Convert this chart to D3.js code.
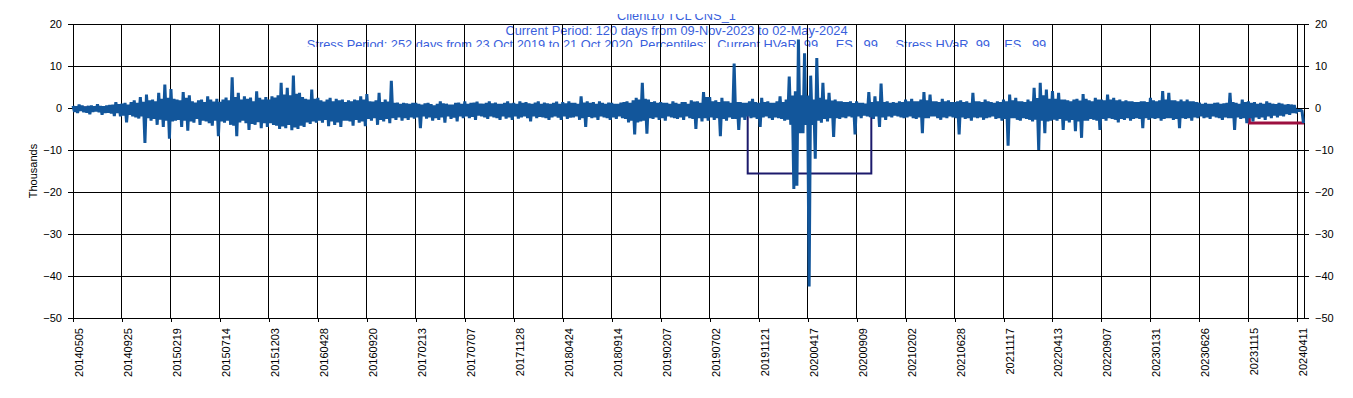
<!DOCTYPE html>
<html><head><meta charset="utf-8">
<script src="https://cdn.jsdelivr.net/npm/d3@7"></script>
<style>
body{margin:0;background:#fff}
svg{display:block}
text{font-family:"Liberation Sans",Arial,sans-serif}
</style>
</head><body>
<svg id="c" width="1353" height="398"></svg>
<script>
// ---------------- data ----------------
const titleLines = [
  "Client10 TCL CNS_1",
  "Current Period: 120 days from 09-Nov-2023 to 02-May-2024",
  "Stress Period: 252 days from 23 Oct 2019 to 21 Oct 2020, Percentiles:   Current HVaR  99     ES   99     Stress HVaR  99    ES   99"
];
const yAxisLabel = "Thousands";
const yTicks = [-50, -40, -30, -20, -10, 0, 10, 20];
const tickLabels = ["20140505","20140925","20150219","20150714","20151203","20160428","20160920",
  "20170213","20170707","20171128","20180424","20180914","20190207","20190702","20191121",
  "20200417","20200909","20210202","20210628","20211117","20220413","20220907","20230131",
  "20230626","20231115","20240411"];
const daysPerTick = 103;     // trading days between labelled dates
const lastDay = 2589;        // index of 02-May-2024
const samplesPerTick = 32;   // sampled P&L highs/lows per labelled interval
// daily P&L (thousands): alternating sampled highs and lows read from the chart
const pnl = [
  0.5,-0.9,0.4,-1.2,0.8,-0.7,0.6,-1.0,0.3,-1.1,0.5,-1.5,0.6,-0.9,0.4,-0.8,0.9,-1.0,0.5,-1.6,0.4,-1.2,0.6,-1.1,0.7,-1.3,0.8,-1.9,1.4,-1.2,0.9,-2.0,
  1.0,-1.8,1.2,-3.4,0.8,-1.6,1.4,-2.0,1.8,-2.2,1.2,-2.5,2.6,-2.0,1.5,-8.3,3.2,-2.4,1.8,-3.0,2.0,-2.6,1.6,-4.0,3.6,-2.8,2.2,-4.5,5.6,-3.0,2.4,-7.3,
  4.5,-3.2,2.2,-3.0,2.0,-2.8,1.8,-4.5,3.8,-3.0,2.4,-5.4,3.0,-3.2,1.6,-3.5,1.3,-2.6,1.8,-4.0,2.0,-3.0,1.4,-3.2,2.8,-3.6,2.0,-4.2,1.5,-3.0,2.2,-6.7,
  1.5,-3.2,2.0,-3.5,2.5,-3.0,1.8,-4.0,7.3,-4.2,2.6,-6.7,3.6,-3.4,2.0,-3.0,2.8,-3.6,2.2,-5.2,2.5,-3.8,1.6,-4.0,4.0,-3.4,2.4,-4.8,2.0,-3.6,2.6,-4.5,
  2.0,-3.6,2.8,-4.0,2.5,-4.2,3.0,-5.0,6.0,-4.4,3.2,-4.8,4.8,-4.0,3.0,-5.3,7.7,-4.6,3.4,-5.0,3.6,-4.2,2.6,-4.5,2.2,-3.4,2.0,-3.8,4.4,-3.2,2.2,-3.5,
  2.4,-3.0,1.8,-3.5,1.5,-2.8,2.0,-4.3,2.4,-3.2,1.6,-4.0,2.2,-3.4,1.8,-4.5,2.0,-3.0,1.4,-3.0,1.8,-3.2,1.6,-4.2,2.0,-2.8,1.8,-3.5,2.8,-3.2,2.0,-4.3,
  3.3,-2.6,1.6,-3.0,1.5,-2.4,1.8,-4.0,3.6,-2.8,1.4,-3.2,2.0,-2.6,1.5,-3.6,6.5,-2.4,1.2,-2.8,1.3,-2.2,1.0,-3.0,1.2,-2.4,1.1,-2.8,1.0,-2.2,1.2,-2.5,
  1.2,-2.2,1.0,-4.8,0.8,-2.0,1.1,-2.5,1.2,-2.2,0.9,-3.0,0.6,-2.4,1.0,-2.8,1.6,-2.2,1.1,-3.5,1.0,-2.0,0.8,-2.6,0.8,-2.3,1.2,-3.2,1.3,-2.0,1.0,-2.4,
  1.6,-2.0,1.0,-2.4,1.2,-2.1,1.3,-2.8,1.5,-1.8,1.0,-2.0,1.0,-2.2,1.2,-2.6,1.6,-2.0,1.1,-2.2,1.3,-2.4,1.0,-2.8,1.0,-2.0,1.2,-2.5,1.6,-2.2,1.1,-2.8,
  1.2,-2.0,1.0,-2.5,1.6,-2.2,1.2,-2.0,1.4,-2.4,1.1,-3.2,1.0,-2.0,1.3,-2.4,1.6,-2.1,1.0,-2.2,1.3,-2.4,1.1,-2.8,1.0,-2.2,1.2,-2.0,1.5,-2.3,1.0,-2.8,
  1.4,-2.0,1.1,-2.6,1.6,-2.3,1.2,-2.2,1.2,-2.0,1.0,-2.8,2.8,-2.4,1.3,-4.5,1.6,-2.1,1.2,-2.4,1.4,-2.2,1.0,-2.8,1.6,-2.0,1.2,-2.2,1.0,-2.4,1.3,-2.8,
  1.2,-2.2,1.0,-2.6,1.0,-2.0,1.3,-2.4,1.4,-2.6,1.6,-3.4,1.2,-3.0,1.8,-6.3,2.4,-3.4,2.0,-3.2,6.0,-3.0,2.2,-6.1,2.0,-2.4,1.4,-2.6,1.6,-2.2,1.2,-2.8,
  1.4,-2.4,1.2,-3.0,1.2,-2.0,1.0,-2.2,1.6,-2.4,1.2,-2.6,1.0,-2.2,1.4,-2.8,1.4,-2.0,1.0,-2.4,1.8,-2.6,1.5,-5.0,1.6,-2.4,1.2,-3.2,3.8,-2.4,2.6,-3.0,
  2.6,-2.2,1.6,-2.8,1.8,-2.4,1.4,-6.7,2.4,-2.6,1.6,-3.0,1.6,-2.2,1.2,-2.6,10.6,-2.6,1.4,-5.2,1.4,-2.2,1.2,-2.8,1.2,-2.0,1.6,-2.4,2.2,-2.2,1.4,-2.6,
  1.2,-4.5,2.4,-2.2,1.4,-2.0,1.6,-2.4,1.2,-2.8,1.2,-2.2,1.6,-2.4,2.8,-2.6,1.4,-3.0,2.0,-2.8,7.5,-4.0,3.0,-19.3,4.0,-18.5,16.3,-6.0,3.0,-6.0,13.0,-4.0,
  3.0,-42.5,7.7,-4.0,2.0,-12.1,11.9,-3.0,2.4,-3.5,6.0,-2.6,2.0,-3.2,3.6,-2.4,1.8,-6.9,2.0,-2.4,1.6,-2.6,1.6,-2.2,1.4,-2.4,1.4,-2.0,1.6,-2.2,1.2,-6.3,
  1.6,-2.0,1.2,-2.4,1.2,-1.8,1.0,-2.0,3.8,-2.2,1.4,-2.6,2.8,-2.0,1.6,-4.5,5.8,-2.2,1.4,-2.8,1.6,-2.0,1.2,-2.2,1.4,-1.8,1.2,-2.0,1.6,-2.2,1.4,-2.4,
  2.0,-2.2,1.6,-2.0,2.2,-2.4,1.6,-2.6,1.6,-2.2,2.0,-6.0,3.8,-2.4,1.8,-2.4,3.2,-2.0,1.6,-2.0,1.6,-2.4,1.4,-2.8,2.2,-2.2,1.6,-2.4,1.8,-2.0,1.4,-2.2,
  1.4,-2.4,1.6,-6.3,1.8,-2.2,1.4,-2.6,1.6,-2.4,1.2,-3.0,3.6,-2.2,1.6,-2.4,1.6,-2.2,1.4,-2.8,2.0,-2.4,1.6,-2.2,1.4,-2.0,1.2,-2.6,1.6,-2.4,1.4,-3.0,
  2.0,-2.6,1.6,-9.0,3.2,-2.4,1.8,-2.4,2.4,-2.8,1.6,-3.0,1.6,-2.4,1.4,-2.6,2.0,-2.8,1.6,-3.2,4.8,-2.8,2.4,-10.0,6.0,-3.0,3.0,-6.0,4.4,-3.2,2.2,-3.0,
  4.0,-2.8,2.2,-3.0,3.6,-2.6,2.0,-5.2,2.0,-3.0,1.8,-3.4,1.6,-2.8,2.0,-5.5,2.2,-3.2,1.8,-7.1,3.3,-3.0,2.2,-3.0,1.8,-2.6,1.6,-2.8,2.4,-3.0,2.0,-5.2,
  2.0,-2.6,1.8,-3.0,3.2,-2.4,2.0,-2.6,2.4,-2.8,1.8,-3.4,2.0,-2.6,1.6,-2.8,1.8,-2.4,1.6,-3.0,1.6,-2.6,1.4,-2.4,1.4,-2.6,1.6,-4.8,1.6,-2.4,1.4,-2.8,
  2.4,-2.4,1.8,-2.6,1.6,-2.4,1.8,-3.0,4.0,-2.6,2.0,-2.4,3.6,-2.4,1.8,-2.8,1.8,-2.6,1.6,-4.8,2.0,-2.4,1.6,-2.6,2.0,-2.4,1.6,-3.0,1.6,-2.2,1.4,-2.4,
  1.3,-2.0,1.0,-2.4,1.2,-2.2,1.0,-2.6,1.0,-2.0,1.2,-2.2,1.3,-2.4,1.0,-2.8,1.1,-2.2,1.2,-2.4,3.6,-2.4,1.4,-5.2,1.2,-2.2,1.0,-2.6,2.0,-2.4,1.4,-3.6,
  1.6,-2.4,1.2,-3.2,1.4,-2.2,1.0,-2.6,1.2,-2.2,1.0,-2.8,1.6,-2.0,1.2,-2.4,1.0,-1.8,0.9,-2.2,1.2,-1.8,1.0,-2.0,0.8,-1.4,0.9,-1.6,0.8,-1.2,0.7,-1.2,
  -0.6,-0.6,-0.6,-0.6,-3.6
];
// current HVaR level (step line) and stress ES box
const currentLevelDays = [0, 2474, 2474, 2589];
const currentLevelValues = [0, 0, -3.6, -3.6];
const stressDays = [1419, 1419, 1679, 1679];
const stressValues = [0, -15.6, -15.6, 0];

// ---------------- chart ----------------
const svg = d3.select("#c");
const L = 73, R = 1304, T = 24, B = 318;
const x = d3.scaleLinear().domain([0, lastDay]).range([L, R]);
const y = d3.scaleLinear().domain([-50, 20]).range([B, T]);
const tickDays = tickLabels.map((d, i) => i * daysPerTick);

// title (clipped, drawn behind the plot)
svg.append("clipPath").attr("id", "tclip").append("rect")
  .attr("x", 0).attr("y", 14).attr("width", 1353).attr("height", 33);
const tg = svg.append("g").attr("clip-path", "url(#tclip)");
titleLines.forEach((t, i) => {
  tg.append("text").attr("x", 676.5).attr("y", 20 + i * 14.5)
    .attr("text-anchor", "middle").attr("font-size", 12.8).attr("fill", "#3a5fdc")
    .style("white-space", "pre").text(t);
});

// grid
const grid = svg.append("g").attr("stroke", "#000").attr("stroke-width", 1).attr("shape-rendering", "crispEdges");
grid.selectAll("line.h").data(yTicks).join("line")
  .attr("x1", L).attr("x2", R).attr("y1", d => y(d)).attr("y2", d => y(d));
grid.selectAll("line.v").data(tickDays).join("line")
  .attr("x1", d => x(d)).attr("x2", d => x(d)).attr("y1", T).attr("y2", B);
grid.append("rect").attr("x", L).attr("y", T).attr("width", R - L).attr("height", B - T).attr("fill", "none");

// axes
function styleAxis(g) {
  g.attr("color", "#000");
  g.selectAll("path,line").attr("stroke", "#000").attr("shape-rendering", "crispEdges");
  g.selectAll("text").attr("font-size", 11).attr("fill", "#000")
    .attr("font-family", '"Liberation Sans",Arial,sans-serif');
}
svg.append("g").attr("transform", `translate(${L},0)`)
  .call(d3.axisLeft(y).tickValues(yTicks).tickSize(5).tickSizeOuter(0).tickPadding(6))
  .call(styleAxis);
svg.append("g").attr("transform", `translate(${R},0)`)
  .call(d3.axisRight(y).tickValues(yTicks).tickSize(5).tickSizeOuter(0).tickPadding(6))
  .call(styleAxis);
const xa = svg.append("g").attr("transform", `translate(0,${B})`)
  .call(d3.axisBottom(x).tickValues(tickDays).tickFormat((d, i) => tickLabels[i]).tickSize(4).tickSizeOuter(0))
  .call(styleAxis);
xa.selectAll("text").attr("transform", "rotate(-90)").attr("text-anchor", "end")
  .attr("x", -10).attr("y", 9.5).attr("dy", 0);

svg.append("text").attr("transform", "translate(37,171) rotate(-90)")
  .attr("text-anchor", "middle").attr("font-size", 11).attr("fill", "#000").text(yAxisLabel);

// series
const line = d3.line().x(d => x(d[0])).y(d => y(d[1]));
svg.append("path")
  .attr("d", line(currentLevelDays.map((d, i) => [d, currentLevelValues[i]])))
  .attr("fill", "none").attr("stroke", "#9c0f3f").attr("stroke-width", 3);
svg.append("path")
  .attr("d", line(stressDays.map((d, i) => [d, stressValues[i]])))
  .attr("fill", "none").attr("stroke", "#1c1a6c").attr("stroke-width", 2);
const step = daysPerTick / samplesPerTick;
svg.append("path")
  .attr("d", line(pnl.map((v, i) => [Math.min(i * step, lastDay), v])))
  .attr("fill", "none").attr("stroke", "#12569b").attr("stroke-width", 3)
  .attr("stroke-linejoin", "bevel");
</script>
</body></html>
